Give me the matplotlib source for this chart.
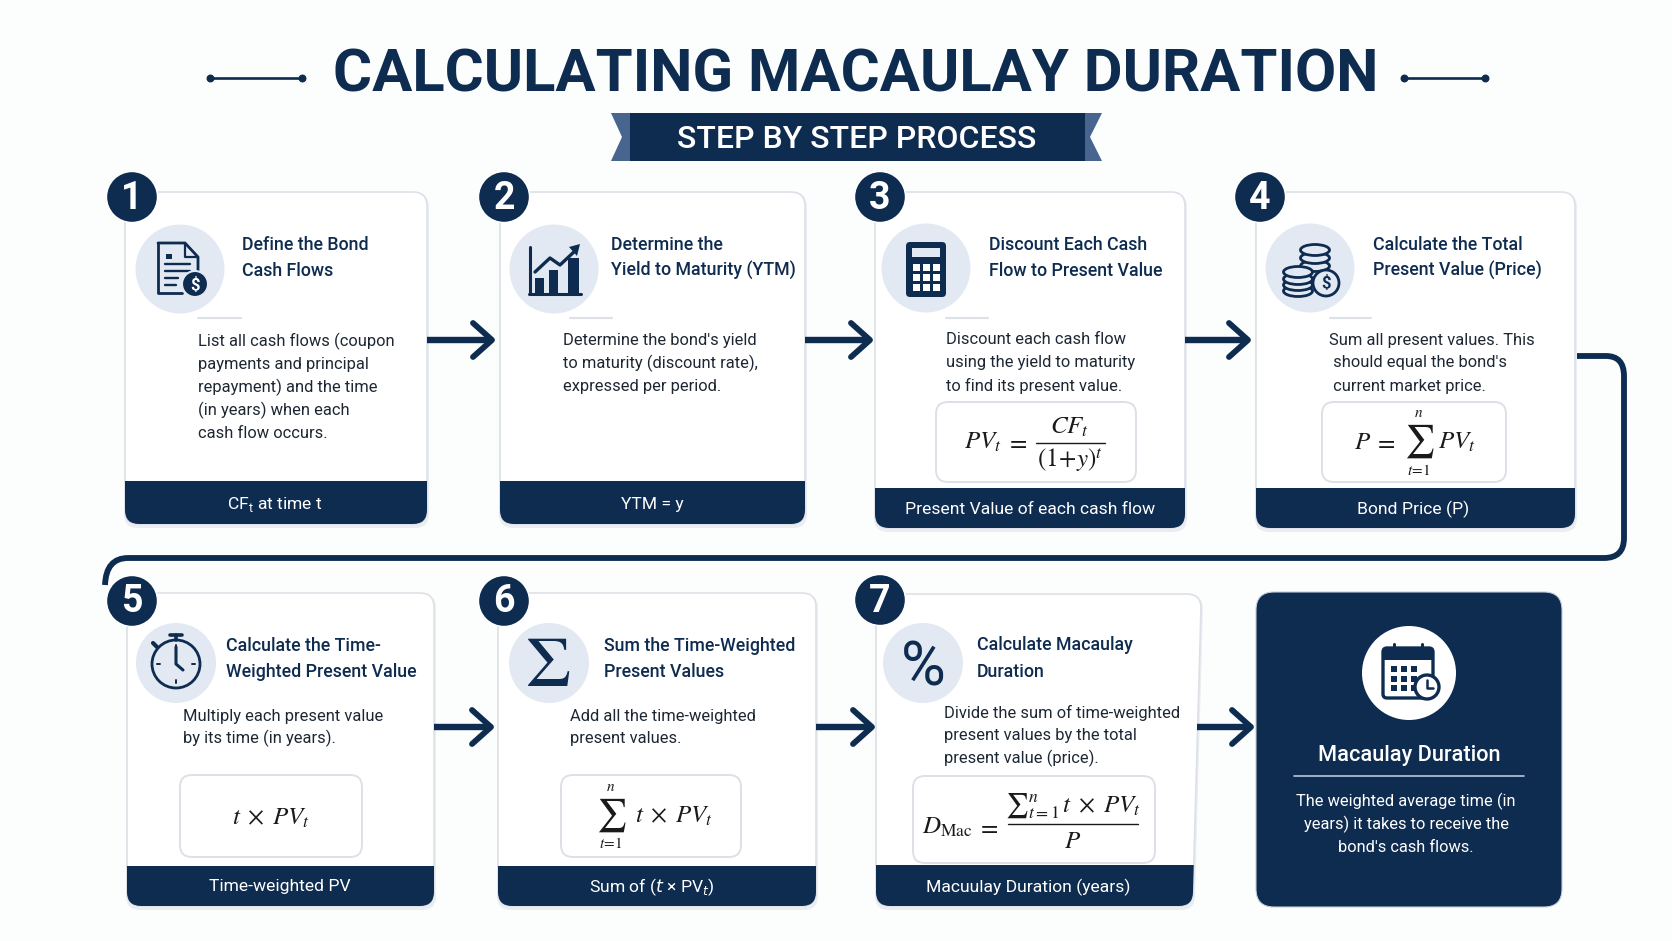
import matplotlib
matplotlib.use("Agg")
from matplotlib import pyplot as plt
from matplotlib.patches import Circle, Ellipse, FancyBboxPatch, PathPatch, Polygon, Rectangle
from matplotlib.path import Path

NAVY = "#0E2B50"
PALE = "#E2E9F3"
BORDER = "#DDE1E7"
BODY = "#1D2733"
INK = "#1A1A1A"

plt.rcParams["font.family"] = ["Roboto", "DejaVu Sans"]
plt.rcParams["mathtext.default"] = "it"

chart_title = "CALCULATING MACAULAY DURATION"
chart_subtitle = "STEP BY STEP PROCESS"

step_titles = [
    ["Define the Bond", "Cash Flows"],
    ["Determine the", "Yield to Maturity (YTM)"],
    ["Discount Each Cash", "Flow to Present Value"],
    ["Calculate the Total", "Present Value (Price)"],
    ["Calculate the Time-", "Weighted Present Value"],
    ["Sum the Time-Weighted", "Present Values"],
    ["Calculate Macaulay", "Duration"],
]
step_text = [
    ["List all cash flows (coupon", "payments and principal", "repayment) and the time", "(in years) when each", "cash flow occurs."],
    ["Determine the bond's yield", "to maturity (discount rate),", "expressed per period."],
    ["Discount each cash flow", "using the yield to maturity", "to find its present value."],
    ["Sum all present values. This", " should equal the bond's", " current market price."],
    ["Multiply each present value", "by its time (in years)."],
    ["Add all the time-weighted", "present values."],
    ["Divide the sum of time-weighted", "present values by the total", "present value (price)."],
]
step_footers = [
    r"CF$_{\mathregular{t}}$ at time t",
    "YTM = y",
    "Present Value of each cash flow",
    "Bond Price (P)",
    "Time-weighted PV",
    r"Sum of ($t$ × PV$_{t}$)",
    "Macuulay Duration (years)",
]
result_title = "Macaulay Duration"
result_text = ["The weighted average time (in", "years) it takes to receive the", "bond's cash flows."]

# layout, all in pixels of the 1672x941 picture
# x0, x1 top, x1 bottom, y0, footer top, y1
cards = [
    (125, 427, 427, 192, 481, 524),
    (500, 805, 805, 192, 481, 524),
    (875, 1185, 1185, 192, 488, 528),
    (1256, 1575, 1575, 192, 488, 528),
    (127, 434, 434, 593, 866, 906),
    (498, 816, 816, 593, 866, 906),
    (876, 1201, 1193, 594, 865, 906),
]
badges = [(132, 197), (504, 197), (880, 197), (1260, 197), (132, 601), (504, 601), (880, 600)]
icon_spots = [(180, 269, 44.5), (554, 269, 44.5), (926, 268, 44.5), (1310, 268, 44.5), (176, 663, 40), (549, 663, 40), (923, 663, 40)]
title_spots = [(242, 245, 271), (611, 245, 271), (989, 245, 271), (1373, 245, 271), (226, 646, 672), (604, 646, 672), (977, 645, 672)]
text_spots = [(198, 341, 23), (563, 340, 23), (946, 340, 23), (1329, 340, 23), (183, 716, 22.5), (570, 716, 22.5), (944, 713, 22.5)]
footer_spots = [(275, 503), (652, 503), (1030, 508), (1413, 508), (280, 886), (652, 886), (1028, 886)]
dividers = [(198, 241, 318), (570, 612, 318), (946, 988, 318), (1330, 1371, 318)]
boxes = [(936, 402, 1136, 482), (1322, 402, 1506, 482), (180, 775, 362, 857), (561, 775, 741, 857), (913, 776, 1155, 863)]
arrows = [(427, 493, 340), (805, 871, 340), (1185, 1249, 340), (434, 492, 727), (816, 873, 727), (1197, 1252, 727)]


def card_path(x0, x1_top, x1_bot, y0, y1, r=14):
    verts = [(x0 + r, y0), (x1_top - r, y0), (x1_top, y0), (x1_top, y0 + r),
             (x1_bot, y1 - r), (x1_bot, y1), (x1_bot - r, y1),
             (x0 + r, y1), (x0, y1), (x0, y1 - r),
             (x0, y0 + r), (x0, y0), (x0 + r, y0), (x0 + r, y0)]
    codes = [Path.MOVETO, Path.LINETO, Path.CURVE3, Path.CURVE3,
             Path.LINETO, Path.CURVE3, Path.CURVE3,
             Path.LINETO, Path.CURVE3, Path.CURVE3,
             Path.LINETO, Path.CURVE3, Path.CURVE3, Path.CLOSEPOLY]
    return Path(verts, codes)


def line(ax, xs, ys, color=NAVY, lw=2.0, cap="round", zorder=6):
    ax.plot(xs, ys, color=color, lw=lw, solid_capstyle=cap, solid_joinstyle="round", zorder=zorder)


def draw_card(ax, card):
    x0, x1t, x1b, y0, yf, y1 = card
    shadow = PathPatch(card_path(x0 - 1, x1t + 2, x1b + 2, y0 + 1, y1 + 4), fc="#D5DBE4", ec="none", alpha=0.45, zorder=1)
    ax.add_patch(shadow)
    body = PathPatch(card_path(x0, x1t, x1b, y0, y1), fc="white", ec=BORDER, lw=1.2, zorder=2)
    ax.add_patch(body)
    foot = Rectangle((x0 - 2, yf), x1t - x0 + 4, y1 - yf + 2, fc=NAVY, ec="none", zorder=3)
    ax.add_patch(foot)
    foot.set_clip_path(body)


def draw_arrow(ax, x0, x1, y):
    line(ax, [x0, x1 - 4], [y, y], lw=4.6, cap="butt", zorder=5)
    line(ax, [x1 - 20, x1 - 1, x1 - 20], [y - 17, y, y + 17], lw=4.2, zorder=5)


def doc_icon(ax, cx, cy):
    line(ax, [158, 185, 198, 198], [243, 243, 257, 275])
    line(ax, [158, 158, 182], [243, 293, 293])
    line(ax, [185, 185, 198], [243, 257, 257], lw=1.6)
    ax.add_patch(Rectangle((166, 254), 6, 5, fc=NAVY, ec="none", zorder=6))
    line(ax, [165, 190], [264, 264], lw=1.7)
    line(ax, [165, 190], [271, 271], lw=1.7)
    line(ax, [165, 178], [278, 278], lw=1.7)
    line(ax, [165, 176], [285, 285], lw=1.7)
    ax.add_patch(Circle((195, 284), 13, fc=NAVY, ec=PALE, lw=1.5, zorder=7))
    ax.text(195, 284.5, "$", color="white", fontsize=12, fontweight="bold", ha="center", va="center", zorder=8, parse_math=False)


def chart_icon(ax, cx, cy):
    line(ax, [530, 530], [247, 294], lw=2.2)
    line(ax, [529, 581], [294, 294], lw=2.2)
    for x, top in [(535, 278), (549, 270), (568, 258)]:
        w = 9 if x < 560 else 11
        ax.add_patch(Rectangle((x, top), w, 294 - top, fc=NAVY, ec="none", zorder=6))
    line(ax, [535, 550, 560, 576], [272, 258, 265, 250], lw=2.4)
    ax.add_patch(Polygon([(580, 244), (569, 247), (577, 256)], fc=NAVY, ec="none", zorder=6))


def calc_icon(ax, cx, cy):
    ax.add_patch(FancyBboxPatch((909, 245), 34, 49, boxstyle="round,pad=3,rounding_size=4", fc=NAVY, ec="none", zorder=6))
    ax.add_patch(Rectangle((912, 248), 28, 9, fc=PALE, ec="none", zorder=7))
    for x in [913, 923, 933]:
        for y in [264, 274, 284]:
            ax.add_patch(Rectangle((x, y), 7, 6.5, fc="white", ec="none", zorder=7))


def coin_stack(ax, cx, ys):
    for y in reversed(ys):
        ax.add_patch(Ellipse((cx, y), 29, 11, fc=PALE, ec=NAVY, lw=2.0, zorder=6))


def coins_icon(ax, cx, cy):
    coin_stack(ax, 1315, [250, 258, 266, 273])
    coin_stack(ax, 1298, [272, 279, 285, 291])
    ax.add_patch(Circle((1326, 283), 13, fc=PALE, ec=NAVY, lw=2.0, zorder=7))
    ax.text(1326, 283.5, "$", color=NAVY, fontsize=12, fontweight="bold", ha="center", va="center", zorder=8, parse_math=False)


def watch_icon(ax, cx, cy):
    ax.add_patch(Circle((176, 664), 24, fc="none", ec=NAVY, lw=2.0, zorder=6))
    line(ax, [170, 182], [635, 635], lw=2.6)
    line(ax, [176, 176], [635, 640], lw=2.6)
    line(ax, [153, 157], [643, 647], lw=3.0)
    line(ax, [176, 176, 183], [647, 664, 670], lw=2.2)
    for a, b, c, d in [(176, 645, 176, 648), (176, 680, 176, 683), (157, 664, 160, 664), (192, 664, 195, 664)]:
        line(ax, [a, c], [b, d], lw=1.4)


def sigma_icon(ax, cx, cy):
    ax.text(cx - 1, cy + 3, r"$\mathrm{\Sigma}$", color=NAVY, fontsize=52, ha="center", va="center", math_fontfamily="stix", zorder=6)


def percent_icon(ax, cx, cy):
    ax.text(cx, cy + 6, "%", color=NAVY, fontsize=44, ha="center", va="center", zorder=6)


def calendar_icon(ax, cx, cy):
    ax.add_patch(FancyBboxPatch((1385, 650), 46, 46, boxstyle="round,pad=2,rounding_size=4", fc="none", ec=NAVY, lw=2.4, zorder=6))
    ax.add_patch(Rectangle((1383, 649), 50, 11, fc=NAVY, ec="none", zorder=6))
    line(ax, [1394, 1394], [644, 654], lw=2.2, zorder=7)
    line(ax, [1422, 1422], [644, 654], lw=2.2, zorder=7)
    for x in [1391, 1401, 1411]:
        for y in [666, 676, 685]:
            ax.add_patch(Rectangle((x, y), 5.5, 5.5, fc=NAVY, ec="none", zorder=6))
    ax.add_patch(Circle((1427, 687), 12, fc="white", ec=NAVY, lw=2.4, zorder=7))
    line(ax, [1427, 1427, 1433], [680, 688, 688], lw=1.8, zorder=8)


def formula(ax, x, y, s, size=17, **kw):
    ax.text(x, y, s, fontsize=size, color=INK, ha="center", va="center", math_fontfamily="stix", zorder=7, **kw)


def draw_formulas(ax):
    # step 3
    formula(ax, 983, 442, r"$PV_{t}$", 18)
    formula(ax, 1017, 442, r"$=$", 18)
    formula(ax, 1070, 427, r"$CF_{t}$", 18)
    line(ax, [1036, 1105], [443, 443], color=INK, lw=1.0, zorder=7)
    formula(ax, 1070, 460, r"$(1\!+\!y)^{t}$", 18)
    # step 4
    formula(ax, 1363, 442, r"$P$", 18)
    formula(ax, 1385, 442, r"$=$", 18)
    formula(ax, 1419, 441, r"$\sum$", 24)
    formula(ax, 1419, 413, r"$n$", 11)
    formula(ax, 1419, 470, r"$t\!=\!1$", 11)
    formula(ax, 1457, 442, r"$PV_{t}$", 18)
    # step 5
    formula(ax, 271, 818, r"$t\;\times\;PV_{t}$", 18)
    # step 6
    formula(ax, 611, 815, r"$\sum$", 24)
    formula(ax, 611, 787, r"$n$", 11)
    formula(ax, 611, 843, r"$t\!=\!1$", 11)
    formula(ax, 674, 816, r"$t\;\times\;PV_{t}$", 18)
    # step 7
    formula(ax, 947, 827, r"$D_{\mathrm{Mac}}$", 18)
    formula(ax, 988, 827, r"$=$", 18)
    formula(ax, 1073, 806, r"${\sum}_{t=1}^{n}\,t\;\times\;PV_{t}$", 18)
    line(ax, [1008, 1138], [824, 824], color=INK, lw=1.0, zorder=7)
    formula(ax, 1073, 841, r"$P$", 18)


def main():
    fig = plt.figure(figsize=(16.72, 9.41), dpi=100, facecolor="#FCFDFD")
    ax = fig.add_axes([0, 0, 1, 1])
    ax.set_xlim(0, 1672)
    ax.set_ylim(941, 0)
    ax.axis("off")

    # heading
    ax.text(856, 75, chart_title, color=NAVY, fontsize=43, fontweight="bold", ha="center", va="center")
    for x0, x1 in [(210, 302), (1404, 1485)]:
        line(ax, [x0, x1], [78, 78], lw=1.9)
        ax.scatter([x0, x1], [78, 78], s=22, color=NAVY, zorder=6)

    # ribbon
    ax.add_patch(Polygon([(611, 113), (640, 113), (640, 161), (611, 161), (622, 137)], fc="#47658F", ec="none", zorder=2))
    ax.add_patch(Polygon([(1102, 113), (1075, 113), (1075, 161), (1102, 161), (1090, 137)], fc="#47658F", ec="none", zorder=2))
    ax.add_patch(Rectangle((630, 113), 455, 48, fc=NAVY, ec="none", zorder=3))
    ax.text(857, 139, chart_subtitle, color="white", fontsize=23, fontweight="medium", ha="center", va="center", zorder=4)

    # connector from step 4 down to step 5
    verts = [(1577, 356), (1606, 356), (1624, 356), (1624, 376), (1624, 538), (1624, 558), (1604, 558),
             (128, 558), (106, 558), (105, 585)]
    codes = [Path.MOVETO, Path.LINETO, Path.CURVE3, Path.CURVE3, Path.LINETO, Path.CURVE3, Path.CURVE3,
             Path.LINETO, Path.CURVE3, Path.CURVE3]
    ax.add_patch(PathPatch(Path(verts, codes), fc="none", ec=NAVY, lw=4.2, zorder=1.5))

    for card in cards:
        draw_card(ax, card)
    for a in arrows:
        draw_arrow(ax, *a)
    for x0, x1, y in dividers:
        line(ax, [x0, x1], [y, y], color=BORDER, lw=1.5, zorder=4)
    for x0, y0, x1, y1 in boxes:
        ax.add_patch(FancyBboxPatch((x0, y0), x1 - x0, y1 - y0, boxstyle="round,pad=0,rounding_size=12", fc="white", ec=BORDER, lw=1.4, zorder=4))

    icon_funcs = [doc_icon, chart_icon, calc_icon, coins_icon, watch_icon, sigma_icon, percent_icon]
    for i in range(7):
        cx, cy, r = icon_spots[i]
        ax.add_patch(Circle((cx, cy), r, fc=PALE, ec="none", zorder=5))
        icon_funcs[i](ax, cx, cy)

        bx, by = badges[i]
        ax.add_patch(Circle((bx, by), 25.5, fc=NAVY, ec="white", lw=1.0, zorder=6))
        ax.text(bx, by + 1, str(i + 1), color="white", fontsize=27, fontweight="bold", ha="center", va="center", zorder=7)

        tx, ty1, ty2 = title_spots[i]
        ax.text(tx, ty1, step_titles[i][0], color=NAVY, fontsize=12.8, fontweight="medium", va="center", zorder=7)
        ax.text(tx, ty2, step_titles[i][1], color=NAVY, fontsize=12.8, fontweight="medium", va="center", zorder=7)

        lx, ly, gap = text_spots[i]
        for j, row in enumerate(step_text[i]):
            ax.text(lx, ly + j * gap, row, color=BODY, fontsize=11.85, va="center", zorder=7)

        fx, fy = footer_spots[i]
        ax.text(fx, fy + 1, step_footers[i], color="white", fontsize=12.6, ha="center", va="center", zorder=7)

    draw_formulas(ax)

    # result panel
    ax.add_patch(PathPatch(card_path(1256, 1562, 1562, 592, 907, r=18), fc=NAVY, ec="#C5CEDA", lw=0.8, zorder=2))
    ax.add_patch(Circle((1409, 673), 47, fc="white", ec="none", zorder=5))
    calendar_icon(ax, 1409, 673)
    ax.text(1409, 755, result_title, color="white", fontsize=15.7, fontweight="medium", ha="center", va="center", zorder=6)
    line(ax, [1294, 1524], [776, 776], color="#B9C6D8", lw=1.2, zorder=6)
    for j, row in enumerate(result_text):
        ax.text(1406, 801 + j * 23.3, row, color="white", fontsize=11.8, ha="center", va="center", zorder=6)

    fig.savefig("out.png", dpi=100, facecolor=fig.get_facecolor())


if __name__ == "__main__":
    main()
